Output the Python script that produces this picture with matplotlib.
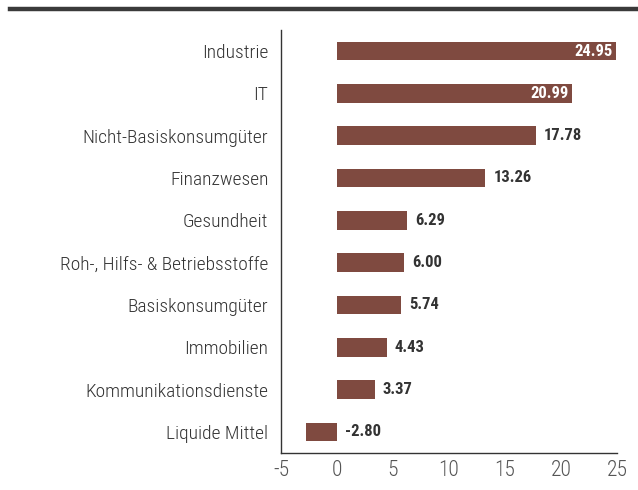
import matplotlib
matplotlib.use('Agg')
import matplotlib.pyplot as plt
from matplotlib import font_manager
from matplotlib.lines import Line2D

categories = ['Industrie', 'IT', 'Nicht-Basiskonsumgüter', 'Finanzwesen', 'Gesundheit',
              'Roh-, Hilfs- & Betriebsstoffe', 'Basiskonsumgüter', 'Immobilien',
              'Kommunikationsdienste', 'Liquide Mittel']
values = [24.95, 20.99, 17.78, 13.26, 6.29, 6.00, 5.74, 4.43, 3.37, -2.80]
xticks = [-5, 0, 5, 10, 15, 20, 25]

names = {f.name for f in font_manager.fontManager.ttflist}
family = 'DejaVu Sans'
for cand in ['Roboto Condensed', 'Liberation Sans Narrow', 'Open Sans Condensed']:
    if cand in names:
        family = cand
        break
plt.rcParams['font.family'] = family
plt.rcParams['font.stretch'] = 'condensed'

bar_color = '#7F4A40'
text_color = '#333333'

fig = plt.figure(figsize=(6.38, 4.9), dpi=100)
ax = fig.add_axes([0.4404, 0.0755, 0.5266, 0.8635])

ypos = list(range(len(categories)))
ax.barh(ypos, values, height=0.44, color=bar_color)

for y, v in zip(ypos, values):
    if v > 20:
        ax.text(v - 0.3, y, f'{v:.2f}', ha='right', va='center', color='white',
                fontsize=12, fontweight='bold')
    else:
        ax.text(max(v, 0) + 0.7, y, f'{v:.2f}', ha='left', va='center', color=text_color,
                fontsize=12, fontweight='bold')

ax.set_yticks(ypos)
ax.set_yticklabels(categories, fontsize=14, color=text_color, fontweight='light')
ax.set_ylim(len(categories) - 0.5, -0.5)
ax.set_xlim(-4.8, 25)
ax.set_xticks(xticks)
ax.set_xticklabels([str(t) for t in xticks], fontsize=15.5, color='#555555', fontweight='light')
ax.tick_params(length=0, pad=5)
ax.tick_params(axis='y', pad=9)

for s in ['top', 'right']:
    ax.spines[s].set_visible(False)
for s in ['left', 'bottom']:
    ax.spines[s].set_color(text_color)
    ax.spines[s].set_linewidth(1)

fig.add_artist(Line2D([10 / 638, 1.0], [1 - 9 / 490, 1 - 9 / 490], color='#3a3a3a', linewidth=3.2))

fig.savefig('out.png', dpi=100)
